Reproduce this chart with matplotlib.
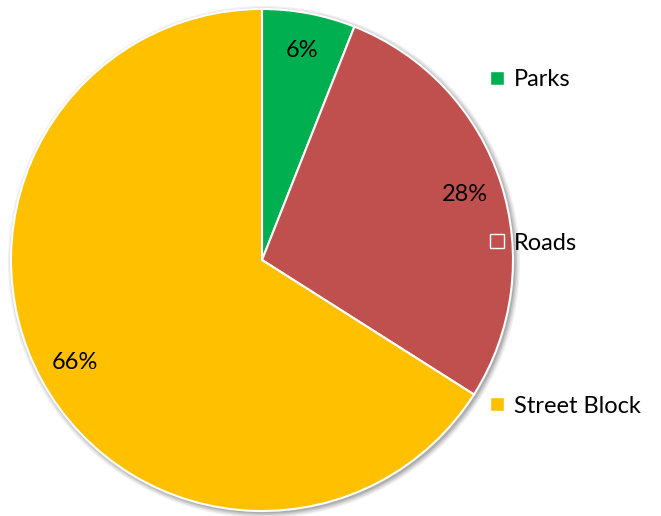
import matplotlib
matplotlib.use("Agg")
import matplotlib.pyplot as plt
from matplotlib.patches import Circle
from matplotlib.lines import Line2D

labels = ["Parks", "Roads", "Street Block"]
values = [6, 28, 66]
colors = ["#00B050", "#C0504D", "#FFC000"]

plt.rcParams['font.family'] = ['Lato', 'DejaVu Sans']

fig = plt.figure(figsize=(6.61, 5.16), dpi=100)
ax = fig.add_axes([0, 0, 1, 1])

cx, cy, r = 262, 256, 251

# soft shadow
for i, a in enumerate([0.06, 0.08, 0.1, 0.12]):
    ax.add_patch(Circle((cx + 2, cy - 2), r + 5 - i * 1.5, color='black', alpha=a, lw=0, zorder=0))

wedges, texts, autotexts = ax.pie(values, colors=colors, startangle=90, counterclock=False,
                                  center=(cx, cy), radius=r, autopct='%d%%', pctdistance=0.85,
                                  wedgeprops=dict(edgecolor='white', linewidth=1.5),
                                  textprops=dict(fontsize=17, color='black'), frame=True)
ax.set_xlim(0, 661)
ax.set_ylim(0, 516)
ax.set_aspect('equal')
ax.axis('off')

handles = [Line2D([], [], marker='s', linestyle='none', markersize=10.5, markerfacecolor=c,
                  markeredgecolor='white', markeredgewidth=1) for c in colors]
ax.legend(handles, labels, loc='center left', bbox_to_anchor=(476 / 661, 1 - 243 / 516), frameon=False,
          fontsize=17, labelspacing=6.02, handlelength=0.8, handletextpad=0.3, borderpad=0)

fig.savefig("out.png", dpi=100)
